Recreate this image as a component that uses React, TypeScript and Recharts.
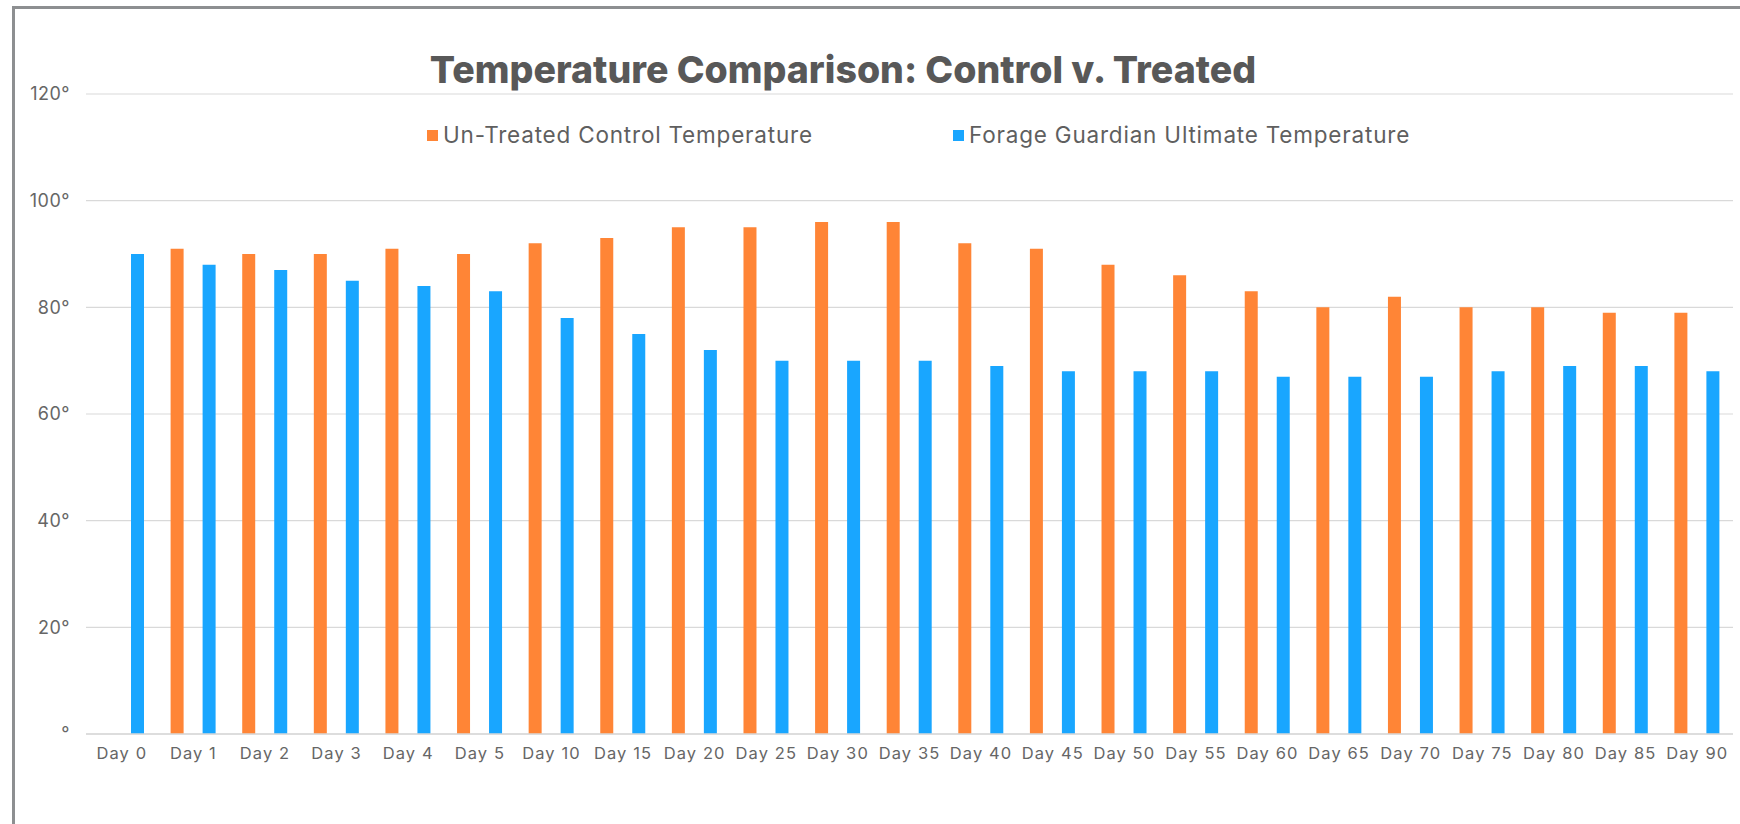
import React from "react";
import { BarChart, Bar, XAxis, YAxis, CartesianGrid } from "recharts";

const days = ["Day 0","Day 1","Day 2","Day 3","Day 4","Day 5","Day 10","Day 15","Day 20","Day 25","Day 30","Day 35","Day 40","Day 45","Day 50","Day 55","Day 60","Day 65","Day 70","Day 75","Day 80","Day 85","Day 90"];
const controlTemps: (number | null)[] = [null,91,90,90,91,90,92,93,95,95,96,96,92,91,88,86,83,80,82,80,80,79,79];
const treatedTemps: number[] = [90,88,87,85,84,83,78,75,72,70,70,70,69,68,68,68,67,67,67,68,69,69,68];
const yTicks = [0,20,40,60,80,100,120];

const controlName = "Un-Treated Control Temperature";
const treatedName = "Forage Guardian Ultimate Temperature";
const titleText = "Temperature Comparison: Control v. Treated";

const ORANGE = "#FF8536";
const BLUE = "#19A6FF";
const FONT = "Inter, 'Noto Sans', sans-serif";

const data = days.map((d, i) => ({ day: d, control: controlTemps[i], treated: treatedTemps[i] }));

const legendItems = [
  { name: controlName, color: ORANGE, left: 427 },
  { name: treatedName, color: BLUE, left: 953 },
];

export default function App() {
  return (
    <div style={{ position: "fixed", left: 0, top: 0, width: 1740, height: 824, overflow: "hidden", background: "#fff" }}>
      <div style={{ position: "absolute", left: 0, top: 47, width: 1686, textAlign: "center", fontFamily: FONT, fontWeight: 800, fontSize: 37.5, color: "#585858", whiteSpace: "nowrap" }}>
        {titleText}
      </div>
      <div style={{ position: "absolute", left: 0, top: 0 }}>
        <BarChart width={1740} height={824} data={data} margin={{ top: 94, right: 7, left: 0, bottom: 60 }} barSize={13} barGap={19}>
          <CartesianGrid vertical={false} stroke="#d9d9d9" strokeWidth={1.2} />
          <XAxis dataKey="day" height={30} tickLine={false} tickSize={0} tickMargin={13} axisLine={{ stroke: "#d9d9d9", strokeWidth: 1.5 }} tick={{ fill: "#666", fontSize: 16.5, fontFamily: FONT, letterSpacing: 1.1 }} interval={0} />
          <YAxis width={86} domain={[0, 120]} ticks={yTicks} axisLine={false} tickLine={false} tickSize={0} tickMargin={16} tick={{ fill: "#666", fontSize: 18, fontFamily: FONT, letterSpacing: 0.5 }} tickFormatter={(v: number) => (v === 0 ? "°" : `${v}°`)} />
          <Bar dataKey="control" name={controlName} fill={ORANGE} isAnimationActive={false} />
          <Bar dataKey="treated" name={treatedName} fill={BLUE} isAnimationActive={false} />
        </BarChart>
      </div>
      {legendItems.map((it, i) => (
        <div key={i} style={{ position: "absolute", left: it.left, top: 122, display: "flex", alignItems: "center", whiteSpace: "nowrap", height: 26 }}>
          <span style={{ display: "inline-block", width: 11, height: 11, background: it.color, marginRight: 5 }} />
          <span style={{ fontFamily: FONT, fontSize: 22.5, letterSpacing: 0.8, color: "#5f5f5f", lineHeight: "26px" }}>{it.name}</span>
        </div>
      ))}
      <div style={{ position: "absolute", left: 12, top: 6, width: 2.5, height: 900, background: "#8d8f91" }} />
      <div style={{ position: "absolute", left: 12, top: 6, width: 1800, height: 2.5, background: "#8d8f91" }} />
    </div>
  );
}
